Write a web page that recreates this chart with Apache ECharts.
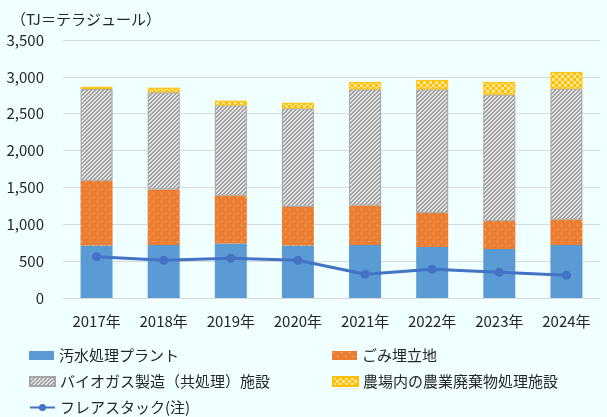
<!DOCTYPE html>
<html>
<head>
<meta charset="utf-8">
<script src="https://cdn.jsdelivr.net/npm/echarts@6/dist/echarts.min.js"></script>
<style>
	html, body { margin: 0; padding: 0; background: #F0FFFF; }
	#chart { width: 607px; height: 417px; }
</style>
</head>
<body>
<div id="chart"></div>
<script>
var years = ['2017年', '2018年', '2019年', '2020年', '2021年', '2022年', '2023年', '2024年'];
var sewage = [711, 720, 738, 711, 720, 693, 666, 720];
var landfill = [879, 752, 652, 525, 534, 462, 380, 344];
var biogas = [1246, 1318, 1223, 1336, 1576, 1675, 1712, 1776];
var farm = [30, 63, 64, 77, 101, 128, 173, 227];
var flare = [561, 512, 539, 512, 322, 390, 349, 308];

var FONT = '"Noto Sans CJK JP", "Noto Sans", sans-serif';

// small canvas tiles for the hatched fills
function makeTile(w, h, draw)
{
	var c = document.createElement('canvas');
	c.width = w;
	c.height = h;
	draw(c.getContext('2d'));
	return c;
}

var dotTile = makeTile(8, 8, function (ctx) {
	ctx.fillStyle = '#ED7D31';
	ctx.fillRect(0, 0, 8, 8);
	ctx.fillStyle = '#FBE0CC';
	ctx.fillRect(1, 1, 1, 1);
	ctx.fillRect(5, 5, 1, 1);
});

var stripeTile = makeTile(4, 4, function (ctx) {
	for (var x = 0; x < 4; x++) {
		for (var y = 0; y < 4; y++) {
			ctx.fillStyle = ((x + y) % 4 < 2) ? '#A0A0A0' : '#E4E4E4';
			ctx.fillRect(x, y, 1, 1);
		}
	}
});

var checkTile = makeTile(6, 6, function (ctx) {
	ctx.fillStyle = '#FFC000';
	ctx.fillRect(0, 0, 6, 6);
	ctx.fillStyle = '#FFE699';
	ctx.fillRect(0, 0, 3, 3);
	ctx.fillRect(3, 3, 3, 3);
});

var myChart = echarts.init(document.getElementById('chart'));

var legendText = { fontFamily: FONT, fontSize: 15, color: '#262626' };

option = {
	backgroundColor: '#F0FFFF',
	animation: false,
	textStyle: { fontFamily: FONT },
	title: {
		text: '（TJ＝テラジュール）',
		left: 6,
		top: 7,
		textStyle: { fontFamily: FONT, fontSize: 15, fontWeight: 'normal', color: '#262626' }
	},
	grid: { left: 63, right: 7, top: 40, bottom: 119 },
	legend: [
		{ data: ['汚水処理プラント'], icon: 'rect', left: 24, top: 343, itemWidth: 25, itemHeight: 9, textStyle: legendText },
		{ data: ['ごみ埋立地'], icon: 'rect', left: 327, top: 343, itemWidth: 25, itemHeight: 9, textStyle: legendText },
		{ data: ['バイオガス製造（共処理）施設'], icon: 'rect', left: 24, top: 369, itemWidth: 25, itemHeight: 9, textStyle: legendText },
		{ data: ['農場内の農業廃棄物処理施設'], icon: 'rect', left: 327, top: 369, itemWidth: 25, itemHeight: 9, textStyle: legendText },
		{ data: ['フレアスタック(注)'], left: 24, top: 395, itemWidth: 25, itemHeight: 9, textStyle: legendText }
	],
	xAxis: {
		type: 'category',
		data: years,
		axisLine: { lineStyle: { color: '#D9D9D9', width: 1 } },
		axisTick: { show: false },
		axisLabel: { fontFamily: FONT, fontSize: 15, color: '#262626', margin: 16 }
	},
	yAxis: {
		type: 'value',
		min: 0,
		max: 3500,
		interval: 500,
		axisLine: { show: false },
		axisTick: { show: false },
		splitLine: { lineStyle: { color: '#D9D9D9', width: 1 } },
		axisLabel: {
			fontFamily: FONT, fontSize: 15, color: '#262626', margin: 19,
			formatter: function (v) { return v.toLocaleString('en-US'); }
		}
	},
	series: [
		{
			name: '汚水処理プラント',
			type: 'bar',
			stack: 'total',
			barWidth: 32,
			data: sewage,
			itemStyle: { color: '#5B9BD5' }
		},
		{
			name: 'ごみ埋立地',
			type: 'bar',
			stack: 'total',
			data: landfill,
			itemStyle: { color: { image: dotTile, repeat: 'repeat' } }
		},
		{
			name: 'バイオガス製造（共処理）施設',
			type: 'bar',
			stack: 'total',
			data: biogas,
			itemStyle: { color: { image: stripeTile, repeat: 'repeat' }, borderColor: '#A5A5A5', borderWidth: 1 }
		},
		{
			name: '農場内の農業廃棄物処理施設',
			type: 'bar',
			stack: 'total',
			data: farm,
			itemStyle: { color: { image: checkTile, repeat: 'repeat' }, borderColor: '#FFC000', borderWidth: 1 }
		},
		{
			name: 'フレアスタック(注)',
			type: 'line',
			data: flare,
			symbol: 'circle',
			symbolSize: 9,
			lineStyle: { color: '#4472C4', width: 3 },
			itemStyle: { color: '#4472C4' },
			z: 5
		}
	]
};

if (option && typeof option === "object") {
	myChart.setOption(option, true);
}
</script>
</body>
</html>
